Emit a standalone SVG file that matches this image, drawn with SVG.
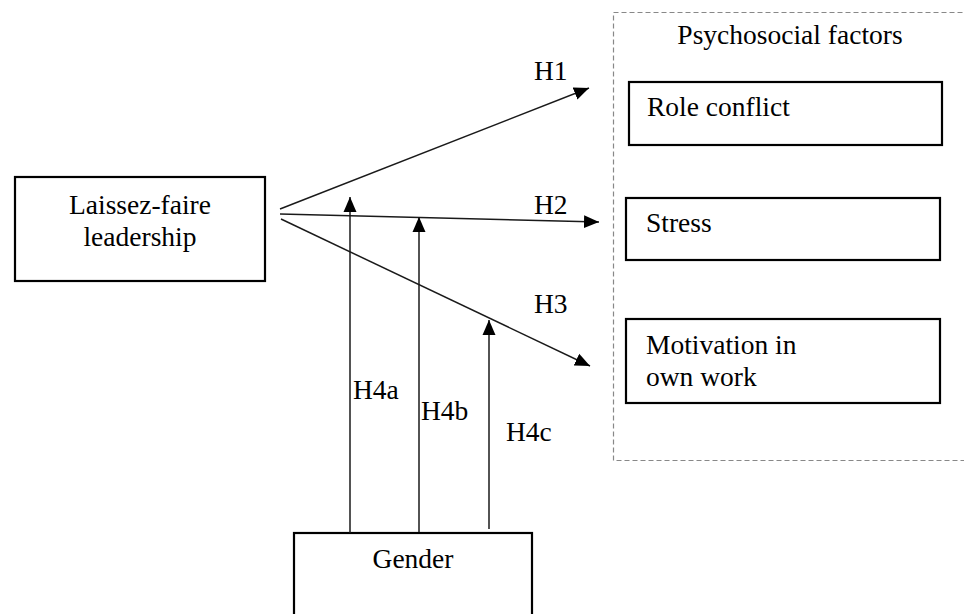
<svg xmlns="http://www.w3.org/2000/svg" width="964" height="614" viewBox="0 0 964 614">
<style>
.box{fill:#fff;stroke:#000;stroke-width:2.2}
.t{font-family:"Liberation Serif","Times New Roman",serif;font-size:27.5px;fill:#000}
.c{stroke:#1a1a1a;stroke-width:1.5;fill:none;marker-end:url(#ah)}
.dash{fill:none;stroke:#888;stroke-width:1.2;stroke-dasharray:5,3}
</style>
<defs>
<marker id="ah" markerUnits="userSpaceOnUse" markerWidth="16" markerHeight="14" refX="15" refY="7" orient="auto">
<path d="M0,0.5 L15,7 L0,13.5 Z" fill="#000"/>
</marker>
</defs>
<g id="group-psychosocial">
<rect class="dash" x="613.5" y="12.5" width="360" height="448"/>
<text class="t" x="790" y="44" text-anchor="middle">Psychosocial factors</text>
</g>
<g id="node-leadership">
<rect class="box" x="15" y="177" width="250" height="104"/>
<text class="t" x="140" y="214" text-anchor="middle">Laissez-faire</text>
<text class="t" x="140" y="246" text-anchor="middle">leadership</text>
</g>
<g id="node-role">
<rect class="box" x="629" y="82" width="313" height="63"/>
<text class="t" x="647" y="116">Role conflict</text>
</g>
<g id="node-stress">
<rect class="box" x="626" y="198" width="314" height="62"/>
<text class="t" x="646" y="232">Stress</text>
</g>
<g id="node-motivation">
<rect class="box" x="626" y="319" width="314" height="84"/>
<text class="t" x="646" y="354">Motivation in</text>
<text class="t" x="646" y="386">own work</text>
</g>
<g id="node-gender">
<rect class="box" x="294" y="533" width="238" height="100"/>
<text class="t" x="413" y="568" text-anchor="middle">Gender</text>
</g>
<g id="connectors">
<line class="c" x1="280" y1="209" x2="589" y2="88"/>
<line class="c" x1="280" y1="214" x2="599" y2="222"/>
<line class="c" x1="281" y1="219" x2="590" y2="366"/>
<line class="c" x1="350" y1="533" x2="350" y2="197"/>
<line class="c" x1="419" y1="532" x2="419" y2="217"/>
<line class="c" x1="489" y1="529" x2="489" y2="320"/>
</g>
<g id="labels">
<text class="t" x="534" y="80">H1</text>
<text class="t" x="534" y="214">H2</text>
<text class="t" x="534" y="313">H3</text>
<text class="t" x="353" y="399">H4a</text>
<text class="t" x="421" y="420">H4b</text>
<text class="t" x="506" y="441">H4c</text>
</g>
</svg>
